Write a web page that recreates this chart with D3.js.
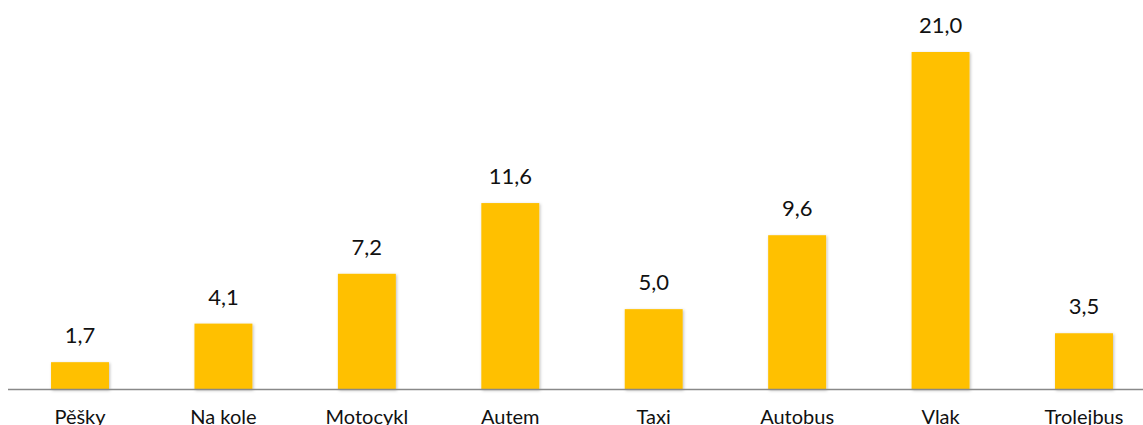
<!DOCTYPE html>
<html><head><meta charset="utf-8">
<script src="https://cdn.jsdelivr.net/npm/d3@7"></script>
<style>body{margin:0;background:#fff;overflow:hidden}svg{display:block}</style>
</head><body>
<script>
const categories = ["Pěšky","Na kole","Motocykl","Autem","Taxi","Autobus","Vlak","Trolejbus"];
const values = [1.7,4.1,7.2,11.6,5.0,9.6,21.0,3.5];

const W = 1143, H = 425;
const svg = d3.select("body").append("svg").attr("width", W).attr("height", H);
const defs = svg.append("defs");
const f = defs.append("filter").attr("id","sh").attr("x","-20%").attr("y","-20%").attr("width","140%").attr("height","140%");
f.append("feDropShadow").attr("dx",1).attr("dy",1).attr("stdDeviation",1.5).attr("flood-color","#000").attr("flood-opacity",0.25);

const x = d3.scaleBand().domain(categories).range([8.3, 1155.7]).paddingInner(0.596).paddingOuter(0.298);
const base = 389.5;
const y = d3.scaleLinear().domain([0, 21]).range([base, 52]);

svg.append("g").selectAll("rect").data(values).join("rect")
  .attr("x", (d,i) => x(categories[i]))
  .attr("y", d => y(d))
  .attr("width", x.bandwidth())
  .attr("height", d => base - y(d))
  .attr("fill", "#FFC000")
  .attr("filter", "url(#sh)");

svg.append("line").attr("x1", 8).attr("x2", W).attr("y1", base).attr("y2", base)
  .attr("stroke", "#898989").attr("stroke-width", 1.5);

const fmt = d => d3.format(".1f")(d).replace(".", ",");
svg.append("g").selectAll("text").data(values).join("text")
  .attr("x", (d,i) => x(categories[i]) + x.bandwidth()/2)
  .attr("y", d => y(d) - 19)
  .attr("text-anchor", "middle")
  .attr("font-family", "Lato, 'Open Sans', sans-serif")
  .attr("font-size", 22)
  .attr("fill", "#111")
  .text(fmt);

svg.append("g").selectAll("text").data(categories).join("text")
  .attr("x", d => x(d) + x.bandwidth()/2)
  .attr("y", 424)
  .attr("text-anchor", "middle")
  .attr("font-family", "Lato, 'Open Sans', sans-serif")
  .attr("font-size", 20)
  .attr("fill", "#111")
  .text(d => d);
</script>
</body></html>
